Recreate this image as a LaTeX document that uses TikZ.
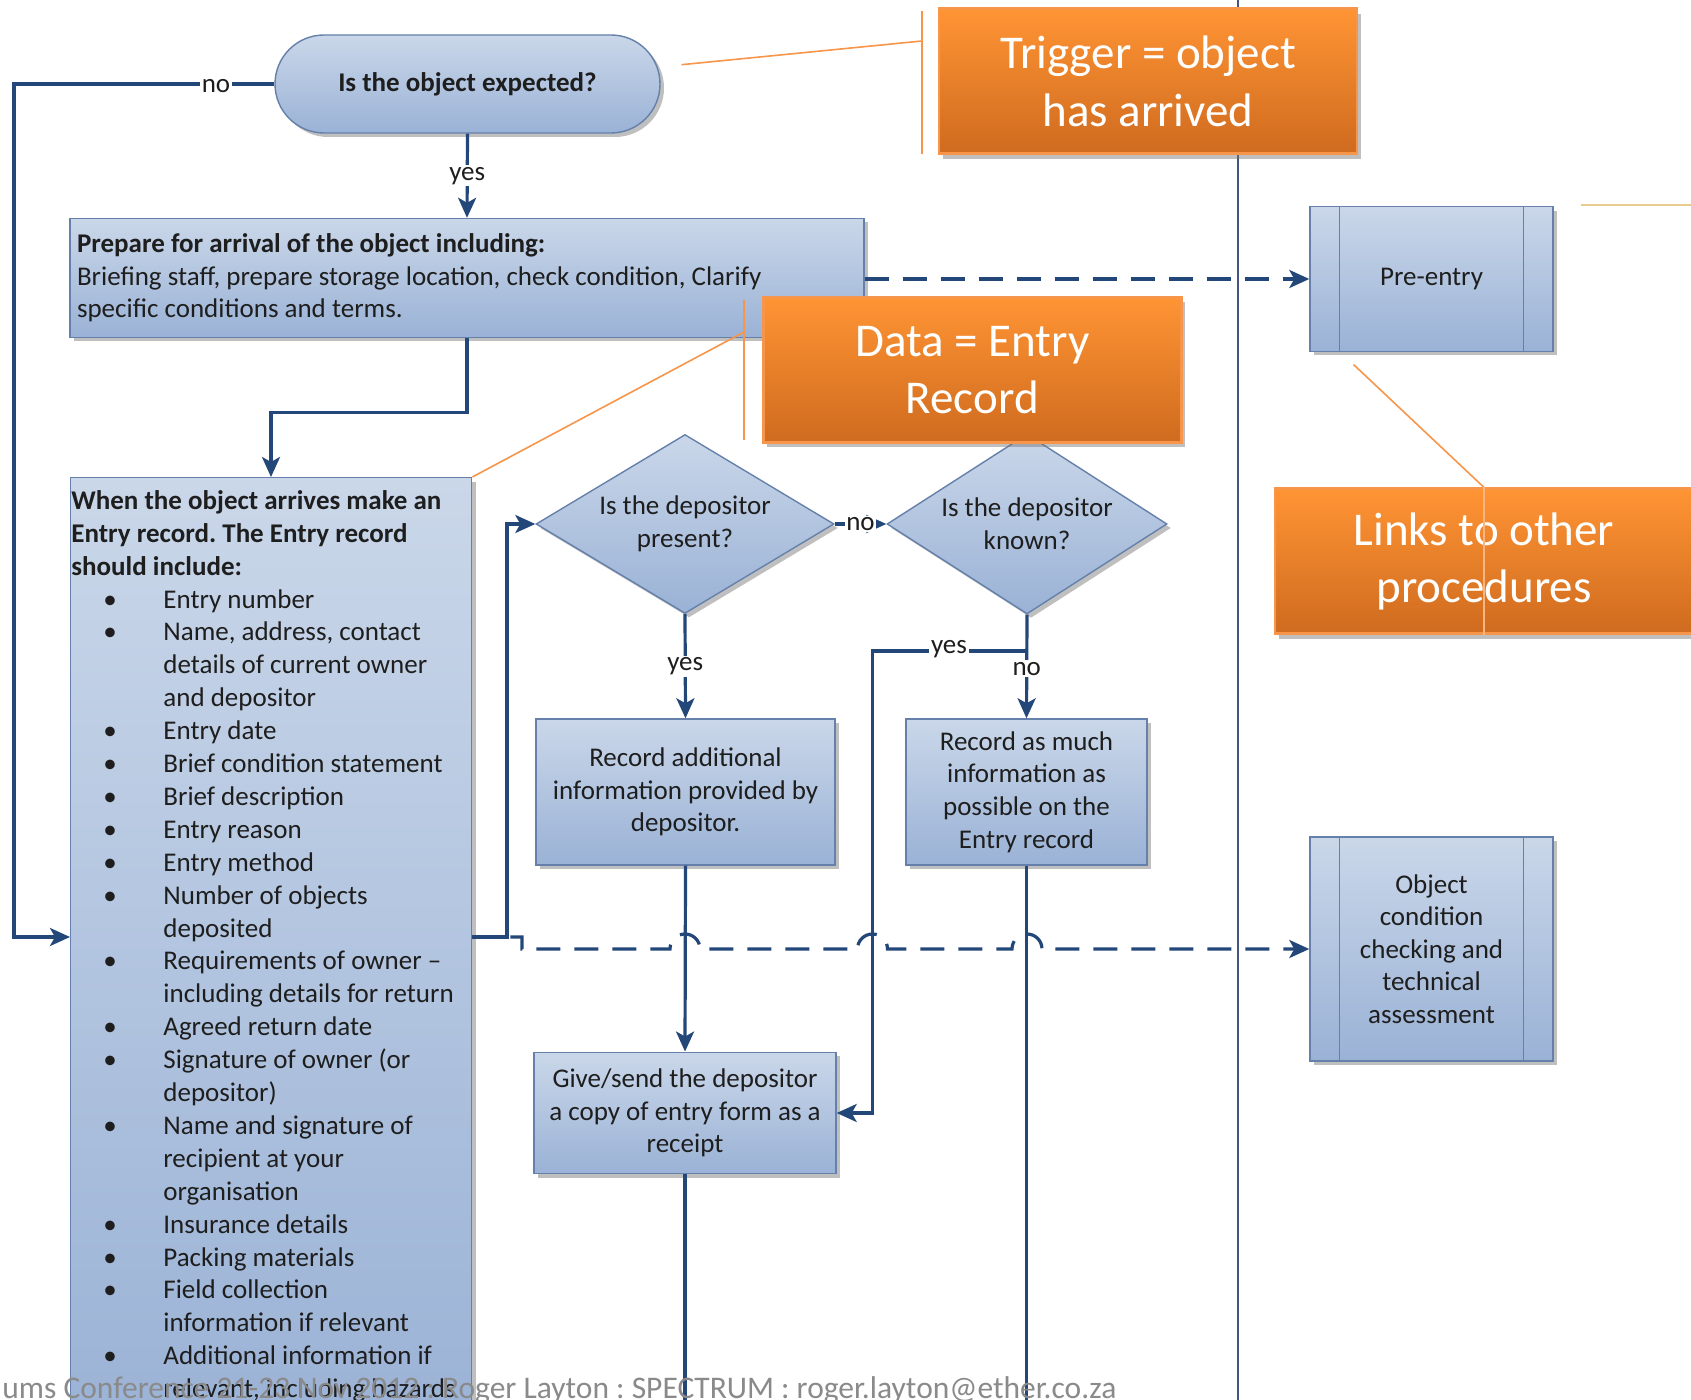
\documentclass[tikz,border=0pt]{standalone}
\usepackage{fontspec}
\setmainfont{Carlito}
\frenchspacing
\usetikzlibrary{shapes.geometric,arrows.meta,shadows}
\definecolor{conn}{HTML}{24477A}
\definecolor{boxtop}{HTML}{CAD7E9}
\definecolor{boxbot}{HTML}{9AB2D6}
\definecolor{boxline}{HTML}{6580AA}
\definecolor{orgtop}{HTML}{FF9434}
\definecolor{orgbot}{HTML}{CF6B1F}
\definecolor{orgline}{HTML}{F7964A}
\definecolor{lanecol}{HTML}{44557F}
\definecolor{tanline}{HTML}{E9CB8E}
\definecolor{footcol}{HTML}{8A8A8A}
\definecolor{txt}{HTML}{1E1E1E}
\newcommand\bodyfnt{\fontsize{13.5}{16.3}\selectfont}
\newcommand\listfnt{\fontsize{13.5}{16.45}\selectfont}
\newcommand\callfnt{\fontsize{23.5}{28.6}\selectfont}
\newcommand\footfnt{\fontsize{15.75}{18}\selectfont}
\newcommand\itm[1]{\makebox[46pt][l]{\hspace*{16pt}\textbullet}#1}
\newcommand\cnt[1]{\hspace*{46pt}#1}
\tikzset{
  flowbox/.style={draw=boxline, line width=0.7pt, top color=boxtop, bottom color=boxbot,
    drop shadow={shadow xshift=2pt, shadow yshift=-2pt, fill=black!55, opacity=0.45},
    inner sep=0pt, font=\bodyfnt, text=txt, align=center},
  decision/.style={flowbox, diamond, aspect=1.6},
  terminal/.style={flowbox, rounded corners=24.5pt, font=\bodyfnt\bfseries},
  subproc/.style={flowbox, minimum width=121.5pt},
  callout/.style={draw=orgline, line width=1.3pt, top color=orgtop, bottom color=orgbot,
    drop shadow={shadow xshift=2pt, shadow yshift=-2.5pt, fill=black!55, opacity=0.45},
    text=white, font=\callfnt, align=center, inner sep=0pt,
    minimum width=209pt, minimum height=72.5pt},
  calloutline/.style={draw=orgline, line width=0.8pt},
  arr/.style={draw=conn, line width=1.6pt, -{Stealth[length=10pt,width=9pt,inset=2.5pt]}},
  plainline/.style={draw=conn, line width=1.6pt},
  dsh/.style={arr, dash pattern=on 12pt off 7pt},
  lbl/.style={fill=white, inner sep=1pt, font=\bodyfnt, text=txt},
  laneline/.style={draw=lanecol, line width=1pt},
}
\begin{document}
\begin{tikzpicture}[x=0.5pt,y=-0.5pt]
\clip (0,0) rectangle (1691,1400);
\fill[white] (0,0) rectangle (1691,1400);

% lane separator
\draw[laneline] (1238,0) -- (1238,1400);

% nodes
\node[terminal, minimum width=192.5pt, minimum height=49pt] (term) at (467.5,84) {Is the object expected?};
\node[flowbox, minimum width=397pt, minimum height=59.5pt, align=left, text width=390pt] (prep) at (467,278)
  {\spaceskip=0pt\xspaceskip=0pt\textbf{Prepare for arrival of the object including:}\\Briefing staff, prepare storage location, check condition, Clarify\\specific conditions and terms.};
\node[flowbox, anchor=north west, minimum width=200.5pt, minimum height=480pt] (entry) at (70,477) {};
\node[anchor=north west, inner sep=0pt, align=left, font=\listfnt, text=txt] (entrytxt) at (71,490)
  {\textbf{When the object arrives make an}\\
   \textbf{Entry record. The Entry record}\\
   \textbf{should include:}\\
   \itm{Entry number}\\
   \itm{Name, address, contact}\\
   \cnt{details of current owner}\\
   \cnt{and depositor}\\
   \itm{Entry date}\\
   \itm{Brief condition statement}\\
   \itm{Brief description}\\
   \itm{Entry reason}\\
   \itm{Entry method}\\
   \itm{Number of objects}\\
   \cnt{deposited}\\
   \itm{Requirements of owner –}\\
   \cnt{including details for return}\\
   \itm{Agreed return date}\\
   \itm{Signature of owner (or}\\
   \cnt{depositor)}\\
   \itm{Name and signature of}\\
   \cnt{recipient at your}\\
   \cnt{organisation}\\
   \itm{Insurance details}\\
   \itm{Packing materials}\\
   \itm{Field collection}\\
   \cnt{information if relevant}\\
   \itm{Additional information if}\\
   \cnt{relevant, including hazards}};
\node[decision, minimum width=149pt, minimum height=89.5pt] (d1) at (685,524) {Is the depositor\\present?};
\node[decision, minimum width=140pt, minimum height=90pt] (d2) at (1027,524) {Is the depositor\\known?};
\node[flowbox, minimum width=149.5pt, minimum height=73pt] (add) at (685.5,792) {Record additional\\information provided by\\depositor.};
\node[flowbox, minimum width=120.5pt, minimum height=73pt] (much) at (1026.5,792) {Record as much\\information as\\possible on the\\Entry record};
\node[flowbox, minimum width=151pt, minimum height=60.75pt] (give) at (685,1113) {Give/send the depositor\\a copy of entry form as a\\receipt};
\node[subproc, minimum height=72.25pt] (pre) at (1431.5,279) {Pre-entry};
\node[subproc, minimum height=112pt] (obj) at (1431.5,949) {Object\\condition\\checking and\\technical\\assessment};
\foreach \n in {pre,obj}{
  \draw[draw=boxline, line width=0.6pt] ([xshift=15.25pt]\n.north west) -- ([xshift=15.25pt]\n.south west);
  \draw[draw=boxline, line width=0.6pt] ([xshift=-15pt]\n.north east) -- ([xshift=-15pt]\n.south east);
}

% connectors
\draw[arr] (term.south) -- (prep.north) node[lbl, midway] (lyes1) {yes};
\draw[arr] (prep.south) -- ++(0,74) -| ([xshift=100.5pt]entry.north west);
\draw[arr] (term.west) -- (14,84) |- (entry.west |- 0,937);
\node[lbl] (lno1) at (216,86) {no};
\draw[arr] (entry.east |- 0,937) -- (507,937) |- (d1.west);
\draw[arr] (d1.east) -- (d2.west) node[lbl, midway, inner sep=0.5pt] (lno2) {no};
\draw[arr] (d1.south) -- (add.north) node[lbl, midway] (lyes2) {yes};
\draw[arr] (d2.south) -- (much.north) node[lbl, pos=0.52] (lno3) {no};
\draw[arr] (d2.south |- 0,651) -- (872.5,651) |- (give.east);
\node[lbl] (lyes3) at (949,649) {yes};
\draw[arr] (add.south) -- (give.north);
\draw[plainline] (give.south) -- (give.south |- 0,1400);
\draw[plainline] (much.south) -- (much.south |- 0,1400);
\draw[dsh] (prep.east |- pre.west) -- (pre.west);
\draw[dsh] (entry.east |- 0,937) -- (522,937) -- (522,949) -- (670,949)
  arc[start angle=180, end angle=360, radius=15] -- (857.5,949)
  arc[start angle=180, end angle=360, radius=15] -- (1012,949)
  arc[start angle=180, end angle=360, radius=15] -- (obj.west);

% callouts
\node[callout] (trig) at (1148,81.3) {Trigger = object\\has arrived};
\node[callout] (data) at (972.25,369.8) {Data = Entry\\Record};
\node[callout] (links) at (1484,561.25) {Links to other\\procedures};
\coordinate (trigA) at (922,11);
\coordinate (trigB) at (922,154);
\coordinate (trigC) at (922,41);
\coordinate (trigD) at (681.5,64.7);
\draw[calloutline] (trigA) -- (trigB);
\draw[calloutline] (trigC) -- (trigD);
\coordinate (dataA) at (744,300);
\coordinate (dataB) at (744,440);
\coordinate (dataC) at (744,332);
\draw[calloutline] (dataA) -- (dataB);
\draw[calloutline] (dataC) -- (entry.north east);
\coordinate (linkA) at (1353.5,364.5);
\draw[calloutline] (links.north) -- (linkA);
\draw[calloutline, draw=orgline!70] (links.north) -- (links.south);
\coordinate (tanA) at (1581,205);
\coordinate (tanB) at (1691,205);
\draw[draw=tanline, line width=1pt] (tanA) -- (tanB);

% footer
\node[anchor=base west, inner sep=0pt, text=footcol, font=\footfnt] (footer) at (2,1398)
  {ums Conference 21-23 Nov 2012 : Roger Layton : SPECTRUM : roger.layton@ether.co.za};
\end{tikzpicture}
\end{document}
